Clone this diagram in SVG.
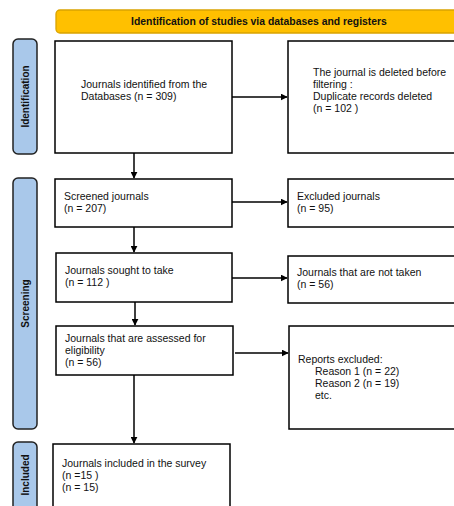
<svg xmlns="http://www.w3.org/2000/svg" width="454" height="506" viewBox="0 0 454 506">
<style>
.box{fill:#fff;stroke:#000;stroke-width:1.5}
.side{fill:#A9C8EA;stroke:#222;stroke-width:1.5}
.t{font-family:"Liberation Sans",Arial,sans-serif;font-size:10.5px;fill:#111}
.st{font-family:"Liberation Sans",Arial,sans-serif;font-size:10px;font-weight:bold;fill:#111}
.bt{font-family:"Liberation Sans",Arial,sans-serif;font-size:10.4px;font-weight:bold;fill:#111}
.ln{stroke:#000;stroke-width:1.5;fill:none}
</style>
<defs>
<marker id="ah" viewBox="0 0 10 10" refX="9" refY="5" markerWidth="7" markerHeight="7" markerUnits="userSpaceOnUse" orient="auto">
<path d="M0,0 L10,5 L0,10 z" fill="#000"/>
</marker>
</defs>
<rect width="454" height="506" fill="#fff"/>
<g id="banner">
<rect x="56" y="10" width="410" height="23" rx="4" fill="#FFC000" stroke="#D9A300" stroke-width="1.3"/>
<text class="bt" x="259" y="25" text-anchor="middle">Identification of studies via databases and registers</text>
</g>
<g id="side-identification">
<rect class="side" x="13" y="39" width="24" height="115" rx="5"/>
<text class="st" transform="translate(29,96.5) rotate(-90)" text-anchor="middle">Identification</text>
</g>
<g id="side-screening">
<rect class="side" x="13" y="178" width="24" height="251" rx="5"/>
<text class="st" transform="translate(29,303.5) rotate(-90)" text-anchor="middle">Screening</text>
</g>
<g id="side-included">
<rect class="side" x="13" y="442" width="24" height="80" rx="5"/>
<text class="st" transform="translate(29,475) rotate(-90)" text-anchor="middle">Included</text>
</g>
<g id="n1">
<rect class="box" x="55" y="41" width="177" height="112"/>
<text class="t" x="81" y="88">Journals identified from the</text>
<text class="t" x="81" y="100">Databases (n = 309)</text>
</g>
<g id="n2">
<rect class="box" x="288" y="41" width="180" height="112"/>
<text class="t" x="313" y="76">The journal is deleted before</text>
<text class="t" x="313" y="88">filtering :</text>
<text class="t" x="313" y="100">Duplicate records deleted</text>
<text class="t" x="313" y="112">(n = 102 )</text>
</g>
<g id="n3">
<rect class="box" x="55" y="179" width="177" height="48"/>
<text class="t" x="64" y="200">Screened journals</text>
<text class="t" x="64" y="212">(n = 207)</text>
</g>
<g id="n4">
<rect class="box" x="288" y="179" width="180" height="48"/>
<text class="t" x="297" y="200">Excluded journals</text>
<text class="t" x="297" y="212">(n = 95)</text>
</g>
<g id="n5">
<rect class="box" x="56" y="253" width="176" height="49"/>
<text class="t" x="65" y="274">Journals sought to take</text>
<text class="t" x="65" y="286">(n = 112 )</text>
</g>
<g id="n6">
<rect class="box" x="288" y="256" width="180" height="47"/>
<text class="t" x="297" y="276">Journals that are not taken</text>
<text class="t" x="297" y="288">(n = 56)</text>
</g>
<g id="n7">
<rect class="box" x="56" y="326" width="177" height="49"/>
<text class="t" x="65" y="342">Journals that are assessed for</text>
<text class="t" x="65" y="354">eligibility</text>
<text class="t" x="65" y="366">(n = 56)</text>
</g>
<g id="n8">
<rect class="box" x="289" y="326" width="180" height="103"/>
<text class="t" x="298" y="363">Reports excluded:</text>
<text class="t" x="315" y="375">Reason 1 (n = 22)</text>
<text class="t" x="315" y="387">Reason 2 (n = 19)</text>
<text class="t" x="315" y="399">etc.</text>
</g>
<g id="n9">
<rect class="box" x="53" y="444" width="177" height="80"/>
<text class="t" x="62" y="467">Journals included in the survey</text>
<text class="t" x="62" y="479">(n =15 )</text>
<text class="t" x="62" y="491">(n = 15)</text>
</g>
<g id="connectors">
<line class="ln" x1="232" y1="97" x2="287" y2="97" marker-end="url(#ah)"/>
<line class="ln" x1="134" y1="153" x2="134" y2="178" marker-end="url(#ah)"/>
<line class="ln" x1="232" y1="202" x2="287" y2="202" marker-end="url(#ah)"/>
<line class="ln" x1="134" y1="227" x2="134" y2="252" marker-end="url(#ah)"/>
<line class="ln" x1="232" y1="278" x2="287" y2="278" marker-end="url(#ah)"/>
<line class="ln" x1="135" y1="302" x2="135" y2="325" marker-end="url(#ah)"/>
<line class="ln" x1="235" y1="353" x2="288" y2="353" marker-end="url(#ah)"/>
<line class="ln" x1="134" y1="375" x2="134" y2="443" marker-end="url(#ah)"/>
</g>
</svg>
